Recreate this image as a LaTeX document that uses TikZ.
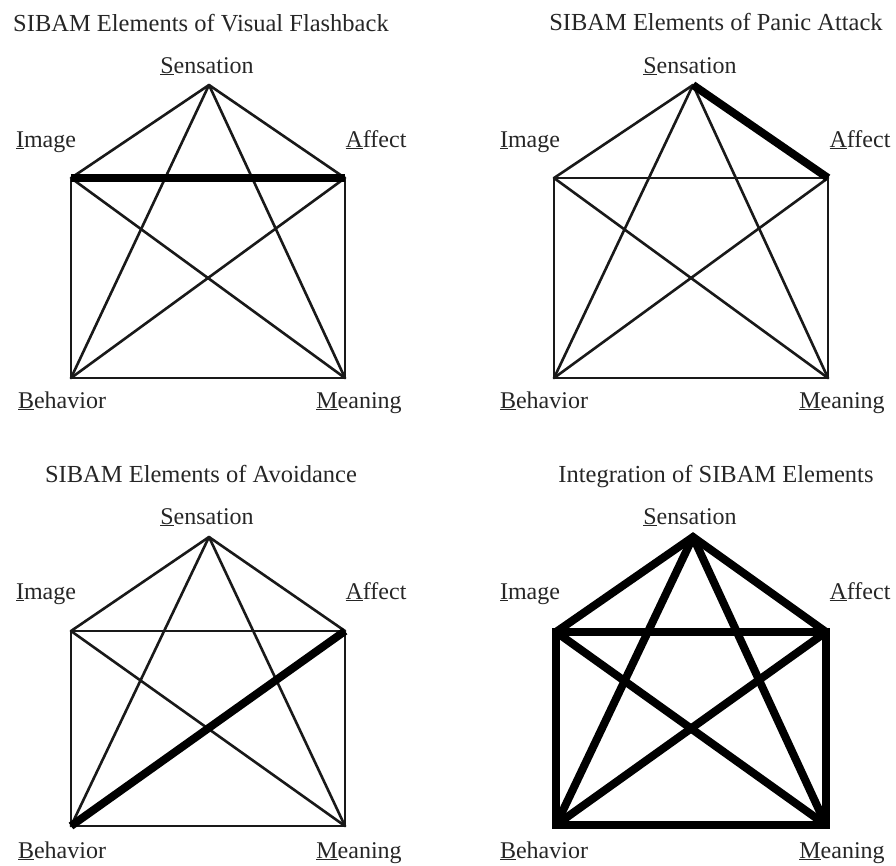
\documentclass[tikz,border=0pt]{standalone}
\usepackage{fontspec}
\setmainfont{Liberation Serif}
\newcommand{\ulfirst}[2]{\underline{#1}#2}
\begin{document}
\begin{tikzpicture}[x=1pt,y=-1pt,
  lbl/.style={anchor=base,inner sep=0pt,font=\fontsize{24}{28}\selectfont,text=black!85},
  ttl/.style={anchor=base,inner sep=0pt,font=\fontsize{24.5}{28}\selectfont,text=black!85},
  edge/.style={line width=2.6pt,line cap=round,black!90},
  hl/.style={line width=8pt,line cap=butt,black},
  heavy/.style={line width=8pt,line join=miter,black}]
\useasboundingbox (0,0) rectangle (896,865);

% corner points of the four pentagram houses
\coordinate (S1) at (209,85);  \coordinate (I1) at (71,178);
\coordinate (A1) at (345,178); \coordinate (B1) at (71,378);
\coordinate (M1) at (345,378);
\coordinate (S2) at (693,85);  \coordinate (I2) at (554,178);
\coordinate (A2) at (828,178); \coordinate (B2) at (554,378);
\coordinate (M2) at (828,378);
\coordinate (S3) at (209,537); \coordinate (I3) at (71,631);
\coordinate (A3) at (345,631); \coordinate (B3) at (71,826);
\coordinate (M3) at (345,826);
\coordinate (S4) at (693,537); \coordinate (I4) at (556,632);
\coordinate (A4) at (826,632); \coordinate (B4) at (556,825);
\coordinate (M4) at (826,825);

% complete graph on the five elements, thin strokes
\foreach \p in {1,2,3}{
  \foreach \u/\v in {S/I,S/A,S/B,S/M,I/A,I/B,I/M,A/B,A/M,B/M}
    \draw[edge] (\u\p) -- (\v\p);
}
% emphasised links
\draw[hl] (I1) -- (A1);
\draw[hl] (S2) -- (A2);
\draw[hl] (A3) -- (B3);

% fully integrated diagram
\draw[heavy] (I4) -- (A4) -- (M4) -- (B4) -- cycle;
\draw[heavy] (I4) -- (S4) -- (A4);
\draw[heavy,line cap=round] (S4) -- (B4);
\draw[heavy,line cap=round] (S4) -- (M4);
\draw[heavy,line cap=round] (I4) -- (M4);
\draw[heavy,line cap=round] (A4) -- (B4);

% titles
\node[ttl] (t1) at (201,31) {SIBAM Elements of Visual Flashback};
\node[ttl] (t2) at (716,30) {SIBAM Elements of Panic Attack};
\node[ttl] (t3) at (201,482) {SIBAM Elements of Avoidance};
\node[ttl] (t4) at (716,482) {Integration of SIBAM Elements};

% element labels
\node[lbl] (s1) at (207,73) {\ulfirst{S}{ensation}};
\node[lbl] (i1) at (46,147) {\ulfirst{I}{mage}};
\node[lbl] (a1) at (376,147) {\ulfirst{A}{ffect}};
\node[lbl] (b1) at (62,408) {\ulfirst{B}{ehavior}};
\node[lbl] (m1) at (359,408) {\ulfirst{M}{eaning}};

\node[lbl] (s2) at (690,73) {\ulfirst{S}{ensation}};
\node[lbl] (i2) at (530,147) {\ulfirst{I}{mage}};
\node[lbl] (a2) at (860,147) {\ulfirst{A}{ffect}};
\node[lbl] (b2) at (544,408) {\ulfirst{B}{ehavior}};
\node[lbl] (m2) at (842,408) {\ulfirst{M}{eaning}};

\node[lbl] (s3) at (207,524) {\ulfirst{S}{ensation}};
\node[lbl] (i3) at (46,599) {\ulfirst{I}{mage}};
\node[lbl] (a3) at (376,599) {\ulfirst{A}{ffect}};
\node[lbl] (b3) at (62,858) {\ulfirst{B}{ehavior}};
\node[lbl] (m3) at (359,858) {\ulfirst{M}{eaning}};

\node[lbl] (s4) at (690,524) {\ulfirst{S}{ensation}};
\node[lbl] (i4) at (530,599) {\ulfirst{I}{mage}};
\node[lbl] (a4) at (860,599) {\ulfirst{A}{ffect}};
\node[lbl] (b4) at (544,858) {\ulfirst{B}{ehavior}};
\node[lbl] (m4) at (842,858) {\ulfirst{M}{eaning}};
\end{tikzpicture}
\end{document}
